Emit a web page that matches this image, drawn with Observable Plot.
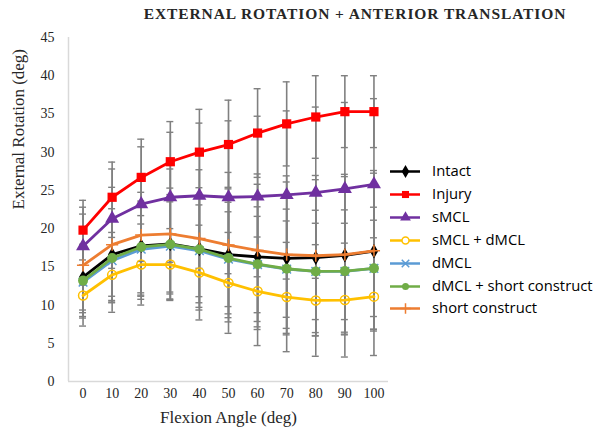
<!DOCTYPE html>
<html>
<head>
<meta charset="utf-8">
<script src="https://cdn.jsdelivr.net/npm/d3@7"></script>
<script src="https://cdn.jsdelivr.net/npm/@observablehq/plot@0.6"></script>
<style>
  html, body { margin: 0; padding: 0; background: #fff; }
  #wrap { position: relative; width: 598px; height: 429px; overflow: hidden; }
  #title { position: absolute; left: 0; top: 5px; width: 598px; padding-left: 112px; box-sizing: border-box; text-align: center;
    font-family: "Liberation Serif", serif; font-weight: bold; font-size: 15.5px; letter-spacing: 0.9px; color: #262626; }
  #chart { position: absolute; left: 0; top: 30px; }
  #legend { position: absolute; left: 390px; top: 160px; font-family: "Open Sans", sans-serif; font-size: 14.8px; color: #000; }
  .li { position: absolute; left: 0; height: 22px; width: 210px; }
  .li svg { position: absolute; left: 0; top: 0; }
  .li span { position: absolute; left: 42px; top: 0px; white-space: nowrap; }
</style>
</head>
<body>
<div id="wrap">
  <div id="title">EXTERNAL ROTATION + ANTERIOR TRANSLATION</div>
  <div id="chart"></div>
  <div id="legend"></div>
</div>
<script>
const angles = [0, 10, 20, 30, 40, 50, 60, 70, 80, 90, 100];
const yTicks = [0, 5, 10, 15, 20, 25, 30, 35, 40, 45];
const seriesNames = ["Intact", "Injury", "sMCL", "sMCL + dMCL", "dMCL", "dMCL + short construct", "short construct"];
const seriesColors = ["#000000", "#ff0000", "#7030a0", "#ffc000", "#5b9bd5", "#70ad47", "#ed7d31"];
const seriesSymbols = ["diamond", "square", "triangle", "circle", "times", "circle", "plus"];

const intact = [13.65, 16.6, 17.75, 18.0, 17.35, 16.6, 16.3, 16.1, 16.2, 16.5, 17.05];
const injury = [19.8, 24.1, 26.7, 28.75, 30.0, 31.0, 32.5, 33.7, 34.6, 35.3, 35.3];
const sMCL = [17.7, 21.3, 23.2, 24.1, 24.3, 24.1, 24.2, 24.4, 24.7, 25.2, 25.8];
const sMCLdMCL = [11.25, 13.95, 15.3, 15.3, 14.25, 12.9, 11.8, 11.05, 10.6, 10.65, 11.1];
const dMCL = [13.0, 15.8, 17.3, 17.7, 17.1, 16.0, 15.3, 14.7, 14.4, 14.4, 14.8];
const dMCLshort = [13.2, 16.15, 17.6, 17.95, 17.3, 16.15, 15.35, 14.75, 14.4, 14.45, 14.8];
const shortConstruct = [15.2, 17.9, 19.15, 19.3, 18.7, 17.85, 17.15, 16.6, 16.45, 16.6, 17.1];

const intactSD = [4.3, 6.0, 7.0, 7.3, 8.0, 8.8, 9.5, 10.0, 10.2, 10.3, 10.2];
const injurySD = [3.9, 4.6, 5.0, 5.25, 5.6, 5.8, 5.8, 5.5, 5.4, 4.7, 4.7];
const sMCLSD = [5.1, 6.5, 7.5, 8.5, 9.5, 10.0, 10.5, 11.0, 11.2, 11.3, 11.2];
const sMCLdMCLSD = [4.0, 4.9, 5.3, 4.7, 6.2, 6.6, 7.1, 7.15, 7.3, 7.45, 7.7];
const dMCLSD = [4.7, 5.5, 6.0, 6.0, 6.0, 6.2, 6.3, 6.3, 6.3, 6.3, 6.3];
const dMCLshortSD = [4.2, 5.0, 6.0, 6.5, 7.0, 7.3, 7.5, 7.8, 8.0, 8.0, 8.0];
const shortConstructSD = [6.7, 7.5, 8.0, 8.5, 9.0, 9.5, 10.0, 10.3, 10.5, 10.5, 10.5];

const means = [intact, injury, sMCL, sMCLdMCL, dMCL, dMCLshort, shortConstruct];
const sds = [intactSD, injurySD, sMCLSD, sMCLdMCLSD, dMCLSD, dMCLshortSD, shortConstructSD];

const rows = [];
seriesNames.forEach((name, i) => {
  angles.forEach((a, j) => {
    rows.push({series: name, idx: i, angle: a, v: means[i][j], sd: sds[i][j]});
  });
});
const caps = [];
rows.forEach(r => { caps.push({angle: r.angle, y: r.v - r.sd}); caps.push({angle: r.angle, y: r.v + r.sd}); });

const marks = [
  Plot.ruleX([-5], {y1: 0, y2: 45, stroke: "#d9d9d9", strokeWidth: 1.5}),
  Plot.ruleY([0], {x1: -5, x2: 105, stroke: "#d9d9d9", strokeWidth: 1.5}),
  Plot.ruleX(rows, {x: "angle", y1: d => d.v - d.sd, y2: d => d.v + d.sd, stroke: "#808080", strokeWidth: 1.6}),
  Plot.ruleY(caps, {y: "y", x1: d => d.angle - 1.2, x2: d => d.angle + 1.2, stroke: "#808080", strokeWidth: 1.4}),
  Plot.axisY({ticks: yTicks, tickSize: 0, tickPadding: 14, label: null, fontSize: 14}),
  Plot.axisX({ticks: angles, tickSize: 0, tickPadding: 7, label: null, fontSize: 14, style: {letterSpacing: "2px"}}),
  Plot.text(["External Rotation (deg)"], {frameAnchor: "left", rotate: -90, dx: -50, fontSize: 17, fill: "#262626"}),
  Plot.text(["Flexion Angle (deg)"], {frameAnchor: "bottom", dy: 41, fontSize: 17, fill: "#262626"})
];
seriesNames.forEach((name, i) => {
  const data = rows.filter(r => r.idx === i);
  const col = seriesColors[i];
  marks.push(Plot.line(data, {x: "angle", y: "v", stroke: col, strokeWidth: 2.8}));
  const sym = seriesSymbols[i];
  let opts = {x: "angle", y: "v", symbol: sym};
  if (sym === "circle" && i === 3) Object.assign(opts, {r: 4.5, fill: "#fff", fillOpacity: 0, stroke: col, strokeWidth: 1.5});
  else if (sym === "times" || sym === "plus") Object.assign(opts, {r: 4, stroke: col, strokeWidth: 1.5});
  else if (sym === "square") Object.assign(opts, {r: 5.2, fill: col});
  else if (sym === "triangle") Object.assign(opts, {r: 5.2, fill: col});
  else if (sym === "diamond") Object.assign(opts, {r: 4.4, fill: col});
  else Object.assign(opts, {r: 5, fill: col});
  marks.push(Plot.dot(data, opts));
});

const chart = Plot.plot({
  width: 598,
  height: 399,
  marginTop: 7,
  marginBottom: 48,
  marginLeft: 68,
  marginRight: 210,
  style: {fontFamily: "Liberation Serif, serif", color: "#262626", background: "transparent"},
  x: {type: "linear", domain: [-5, 105]},
  y: {domain: [0, 45]},
  symbol: {type: "identity"},
  marks
});
document.getElementById("chart").appendChild(chart);

// legend built from the series arrays
const legend = document.getElementById("legend");
seriesNames.forEach((name, i) => {
  const row = document.createElement("div");
  row.className = "li";
  row.style.top = (i * 22.9) + "px";
  const col = seriesColors[i];
  const sym = seriesSymbols[i];
  const lg = Plot.plot({
    width: 30, height: 22, margin: 0, axis: null,
    x: {domain: [-1, 1]}, y: {domain: [-1, 1]},
    symbol: {type: "identity"},
    marks: [
      Plot.ruleY([0], {x1: -1, x2: 1, stroke: col, strokeWidth: 2.5}),
      (sym === "times" || sym === "plus")
        ? Plot.dot([0], {x: () => 0, y: () => 0, symbol: () => sym, r: 3.5, stroke: col, strokeWidth: 1.5})
        : (i === 3)
          ? Plot.dot([0], {x: () => 0, y: () => 0, symbol: () => sym, r: 3.5, fill: "#fff", stroke: col, strokeWidth: 1.5})
          : Plot.dot([0], {x: () => 0, y: () => 0, symbol: () => sym, r: sym === "circle" ? 3.5 : 4, fill: col})
    ]
  });
  row.appendChild(lg);
  const sp = document.createElement("span");
  sp.textContent = name;
  row.appendChild(sp);
  legend.appendChild(row);
});
</script>
</body>
</html>
